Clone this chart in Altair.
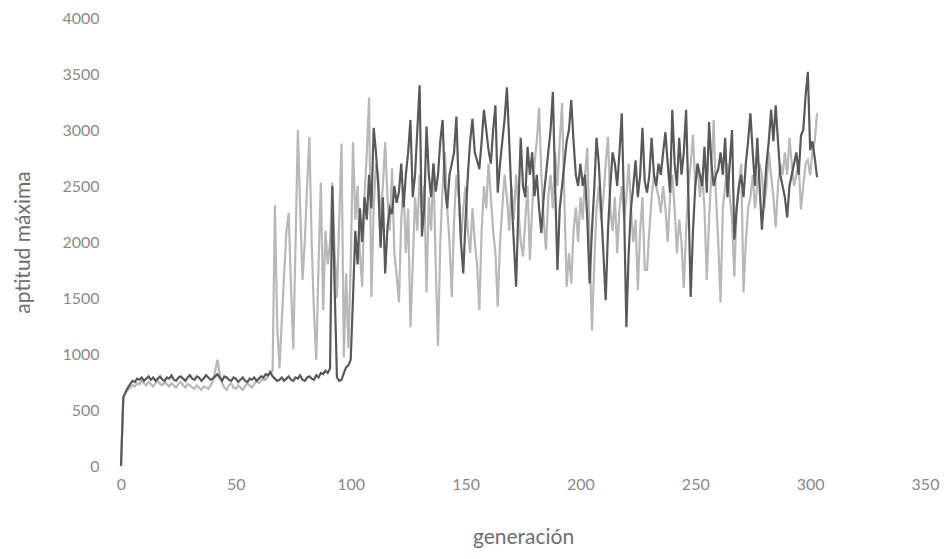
import altair as alt
import pandas as pd

# generación 0..303
dark_vals = [
    0, 610, 660, 700, 730, 760, 750, 780, 770, 790,
    760, 780, 800, 770, 790, 760, 780, 800, 770, 760,
    790, 780, 810, 770, 760, 790, 800, 780, 760, 790,
    810, 780, 770, 800, 790, 760, 780, 810, 790, 770,
    780, 800, 820, 790, 760, 800, 790, 770, 760, 790,
    780, 750, 770, 790, 760, 750, 780, 770, 790, 760,
    780, 800, 790, 820, 810, 840, 800, 780, 760, 770,
    790, 760, 780, 800, 770, 760, 790, 780, 810, 770,
    760, 790, 800, 780, 770, 810, 790, 830, 820, 850,
    830, 870, 2500, 1600, 790, 760, 770, 830, 880, 900,
    950, 1500, 2100, 1800, 2300, 2000, 2400, 2200, 2600, 2300,
    3020, 2800, 2500, 1950, 2400, 1720, 2130, 2300, 2250, 2500,
    2350, 2450, 2700, 2310, 2600, 2800, 3090, 2400, 2600, 3000,
    3400, 2050, 2300, 3030, 2600, 2400, 2700, 2450, 2600, 2900,
    3090, 2500, 2300, 2600, 2700, 2800, 3120, 2500, 2000, 1720,
    2200, 2600, 2900, 3100, 2800, 2730, 2650, 2900, 3180, 3000,
    2820, 2700, 3000, 3220, 2440, 2700, 2900, 3100, 3380, 2900,
    2400, 2000, 1600, 2300, 2930, 2500, 2400, 2850, 2600, 2800,
    2410, 2600, 2300, 2080, 2400, 2600, 2800, 3000, 3340, 2500,
    1750, 2300, 2500, 2700, 2900, 3000, 3270, 2900, 2600, 2500,
    2700, 2500, 2600, 2200, 1630, 2100, 2470, 2930, 2700, 2300,
    1900, 1480, 2100, 2500, 2800, 2700, 2500, 2800, 3150, 2300,
    1240, 1900, 2300, 2500, 2730, 2400, 2600, 3020, 2540, 2440,
    2600, 2930, 2600, 2500, 2700, 2600, 2800, 2980, 2700, 2440,
    3180, 2700, 2500, 2930, 2600, 2800, 3180, 2400, 1510, 2100,
    2500, 2700, 2600, 2500, 2850, 2440, 3070, 2700, 2500, 2600,
    2650, 2800, 2600, 2930, 2400, 2700, 3000, 2020, 2300, 2500,
    2600, 2400, 2700, 2900, 3150, 2800, 2500, 2930, 2500, 2110,
    2400, 2700, 2900, 3180, 2900, 3220, 2900, 2600, 2500, 2400,
    2220, 2500, 2600, 2700, 2800, 2600, 2950, 3000, 3300, 3520,
    2820, 2900, 2750, 2580,
]

light_vals = [
    0, 620, 650, 680, 700, 720, 710, 740, 730, 760,
    740, 720, 750, 730, 710, 740, 760, 730, 720, 750,
    730, 710, 740, 720, 700, 730, 750, 720, 700, 730,
    720, 700, 690, 720, 700, 680, 710, 700, 690, 720,
    760, 850, 950, 820, 740, 700, 680, 720, 740, 700,
    690, 720, 700, 680, 710, 740, 720, 700, 730, 760,
    740, 760, 780, 770, 800, 830, 850, 2330, 1250, 870,
    1300, 1700, 2100, 2260, 1600, 1040, 2000, 3000, 2300, 1660,
    2000, 2500, 2940, 2000, 1370, 950, 1800, 2530, 1390, 2100,
    1800, 2000, 2530, 1900, 1500, 2200, 2880, 970, 1720, 1050,
    1800, 2890, 2200, 2500, 1900, 1600, 2400, 2800, 3290, 1510,
    2300, 2700, 2600, 2200, 2500, 2890, 2400, 2100, 2660, 1900,
    1700, 1460, 2200, 2500, 1900, 2300, 1240, 1800, 2400, 2100,
    2600, 2300, 2500, 1550, 2400, 2100, 2700, 1800, 1070, 2000,
    2500, 2800, 2300, 2000, 1510, 2200, 2600, 2400, 2000, 2300,
    2500, 2100, 1900, 2300, 2000, 1800, 1390, 2100, 2500, 2300,
    2700, 2400, 2100, 1900, 1420, 2000, 2310, 2600, 2400, 2100,
    2500, 2200, 2600, 2300, 2000, 1870, 2200, 2500, 1840, 2300,
    2700, 2900, 3200, 2600, 2200, 1930, 2400, 2600, 2300, 2800,
    2500, 2900, 3240, 2400, 1600, 1900, 1630, 2100, 2310, 2000,
    2400, 2200, 2600, 2840, 2000, 1210, 1800, 2300, 2500, 2200,
    2400, 2700, 2940, 2300, 2100, 2400, 1900, 2300, 2500, 2200,
    2400, 2700, 2300, 2000, 2200, 1570, 2100, 2400, 1750, 1750,
    2100, 2400, 2600, 2500, 2400, 2260, 2500, 2300, 2000, 2400,
    2600, 2300, 1900, 2200, 2000, 1590, 2100, 2500, 2700, 2960,
    2500, 2700, 2400, 2600, 2300, 1660, 2200, 2600, 3090, 2400,
    2000, 1460, 2300, 2500, 2700, 2400, 2200, 1690, 2300, 2500,
    2700, 1550, 2000, 2300, 2400, 2600, 2300, 2500, 2700, 2600,
    2300, 2500, 2800, 2600, 2400, 2130, 2500, 2700, 2600, 2800,
    2600, 2930, 2700, 2500, 2600, 2700, 2290, 2500, 2700, 2730,
    2600, 2800, 2900, 3150,
]

series_names = ["claro", "oscuro"]
series_colors = ["#b8b8b8", "#595959"]
x_ticks = [0, 50, 100, 150, 200, 250, 300, 350]
y_ticks = [0, 500, 1000, 1500, 2000, 2500, 3000, 3500, 4000]

rows = []
for i, v in enumerate(light_vals):
    rows.append({"gen": i, "apt": v, "serie": "claro", "orden": 0})
for i, v in enumerate(dark_vals):
    rows.append({"gen": i, "apt": v, "serie": "oscuro", "orden": 1})
df = pd.DataFrame(rows)

FONT = "Lato"

chart = alt.Chart(df).mark_line(strokeWidth=2.2, interpolate="linear").encode(
    x=alt.X("gen:Q",
            scale=alt.Scale(domain=[0, 350], nice=False),
            axis=alt.Axis(values=x_ticks, title="generación", grid=False, domain=False,
                          ticks=False, labelPadding=10, titlePadding=34, labelFlush=False,
                          format="d",
                          labelFontSize=16, titleFontSize=21, labelColor="#8a8a8a",
                          titleColor="#6e6e6e", labelFont=FONT, titleFont=FONT,
                          titleFontWeight="normal")),
    y=alt.Y("apt:Q",
            scale=alt.Scale(domain=[0, 4000], nice=False),
            axis=alt.Axis(values=y_ticks, title="aptitud máxima", grid=False, domain=False,
                          ticks=False, labelPadding=22, titlePadding=28, labelFlush=False,
                          format="d",
                          labelFontSize=16, titleFontSize=21, labelColor="#8a8a8a",
                          titleColor="#6e6e6e", labelFont=FONT, titleFont=FONT,
                          titleFontWeight="normal")),
    color=alt.Color("serie:N", scale=alt.Scale(domain=series_names, range=series_colors),
                    legend=None),
    order=alt.Order("orden:Q"),
    detail="serie:N",
).properties(
    width=804,
    height=448,
    autosize=alt.AutoSizeParams(type="none"),
    padding={"left": 113, "top": 10, "right": 18, "bottom": 85},
).configure_view(stroke=None)

chart.save("out.html", embed_options={"renderer": "svg", "actions": False})
